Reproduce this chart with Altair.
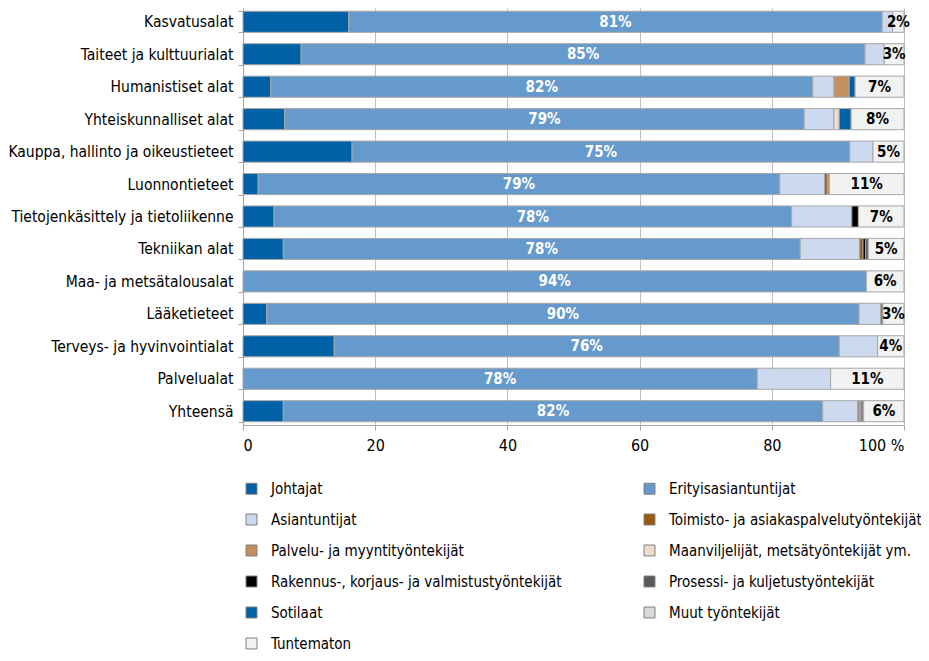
import altair as alt
import pandas as pd

categories = [
    "Kasvatusalat", "Taiteet ja kulttuurialat", "Humanistiset alat",
    "Yhteiskunnalliset alat", "Kauppa, hallinto ja oikeustieteet",
    "Luonnontieteet", "Tietojenkäsittely ja tietoliikenne", "Tekniikan alat",
    "Maa- ja metsätalousalat", "Lääketieteet", "Terveys- ja hyvinvointialat",
    "Palvelualat", "Yhteensä",
]

series = [
    "Johtajat", "Erityisasiantuntijat", "Asiantuntijat",
    "Toimisto- ja asiakaspalvelutyöntekijät", "Palvelu- ja myyntityöntekijät",
    "Maanviljelijät, metsätyöntekijät ym.",
    "Rakennus-, korjaus- ja valmistustyöntekijät",
    "Prosessi- ja kuljetustyöntekijät", "Sotilaat", "Muut työntekijät",
    "Tuntematon",
]

johtajat = [16.0, 8.8, 4.2, 6.3, 16.5, 2.3, 4.7, 6.1, 0, 3.6, 13.8, 0, 6.1]
erityis = [80.7, 85.3, 82.0, 78.6, 75.3, 78.9, 78.3, 78.2, 94.3, 89.6, 76.4, 77.8, 81.6]
asiant = [1.6, 2.9, 3.2, 4.5, 3.5, 6.8, 9.1, 9.0, 0, 3.3, 5.8, 11.1, 5.3]
toimisto = [0, 0, 0, 0, 0, 0.4, 0, 0.5, 0, 0.3, 0, 0, 0.2]
palvelu = [0, 0, 2.3, 0, 0, 0.3, 0, 0, 0, 0, 0, 0, 0.2]
maanvilj = [0, 0, 0, 0.8, 0, 0, 0, 0, 0, 0, 0, 0, 0]
rakennus = [0, 0, 0, 0, 0, 0, 1.0, 0.4, 0, 0, 0, 0, 0.1]
prosessi = [0, 0, 0, 0, 0, 0, 0, 0.4, 0, 0, 0, 0, 0.3]
sotilaat = [0, 0, 0.9, 1.8, 0, 0, 0, 0, 0, 0, 0, 0, 0.1]
muut = [0, 0, 0, 0, 0, 0, 0, 0, 0, 0, 0, 0, 0]
tuntematon = [1.7, 3.0, 7.4, 8.0, 4.7, 11.3, 6.9, 5.4, 5.7, 3.2, 4.0, 11.1, 6.1]

colors = ["#0061A6", "#6699CC", "#CDD9EE", "#9C5A0E", "#C4915E", "#EFDCC9",
          "#000000", "#595959", "#0061A6", "#D9D9D9", "#F2F2F2"]

x_ticks = [0, 20, 40, 60, 80, 100]

all_values = [johtajat, erityis, asiant, toimisto, palvelu, maanvilj,
              rakennus, prosessi, sotilaat, muut, tuntematon]

rows = []
for si, (s, vals) in enumerate(zip(series, all_values)):
    for ci, c in enumerate(categories):
        v = vals[ci]
        if v > 0:
            rows.append({"category": c, "series": s, "value": v, "order": si})
df = pd.DataFrame(rows)

# legend fills column by column: arrange so that rows read in series order
legend_order = series[0::2] + series[1::2]
color_map = dict(zip(series, colors))
legend_colors = [color_map[s] for s in legend_order]

FONT = "Liberation Sans Narrow, DejaVu Sans Condensed, sans-serif"

base = alt.Chart(df).transform_stack(
    stack="value", groupby=["category"], as_=["x0", "x1"],
    sort=[alt.SortField("order", order="ascending")],
)

yenc = alt.Y(
    "category:N", sort=categories, title=None,
    scale=alt.Scale(paddingInner=0.35, paddingOuter=0.1),
    axis=alt.Axis(tickBand="extent", tickSize=5, labelFontSize=15.5,
                  labelPadding=5, domainColor="#A6A6A6", tickColor="#A6A6A6",
                  labelColor="#000000", labelLimit=400),
)

bars = base.mark_bar(stroke="#A6A6A6", strokeWidth=1).encode(
    x=alt.X("x0:Q", title=None,
            scale=alt.Scale(domain=[0, 100], nice=False, zero=True),
            axis=alt.Axis(values=x_ticks, tickSize=5, labelFontSize=16,
                          labelPadding=7, domainColor="#A6A6A6",
                          tickColor="#A6A6A6", gridColor="#BFBFBF",
                          grid=True, labelColor="#000000",
                          labelExpr="datum.value == 100 ? '100 %' : datum.label")),
    x2="x1:Q",
    y=yenc,
    color=alt.Color(
        "series:N",
        scale=alt.Scale(domain=legend_order, range=legend_colors),
        legend=alt.Legend(
            title=None, orient="none", legendX=1, legendY=473, columns=2,
            symbolType="square", symbolSize=120, symbolStrokeColor="#7F7F7F",
            symbolStrokeWidth=1, labelFontSize=15, labelLimit=500,
            rowPadding=15, columnPadding=80, labelOffset=12, padding=0,
            labelColor="#000000",
        ),
    ),
    order=alt.Order("order:Q"),
)

labels = base.transform_filter(
    alt.FieldOneOfPredicate(field="series", oneOf=["Erityisasiantuntijat", "Tuntematon"])
).transform_calculate(
    mid="(datum.x0 + datum.x1) / 2",
    lab="format(datum.value, '.0f') + '%'",
).mark_text(fontWeight="bold", fontSize=15, font=FONT).encode(
    x="mid:Q",
    y=alt.Y("category:N", sort=categories),
    text="lab:N",
    color=alt.condition(alt.datum.series == "Erityisasiantuntijat",
                        alt.value("#FFFFFF"), alt.value("#000000")),
)

chart = alt.layer(bars, labels).properties(
    width=661, height=417,
    autosize=alt.AutoSizeParams(type="none"),
    padding={"left": 235, "top": 0, "right": 17, "bottom": 228},
).configure(font=FONT).configure_view(stroke=None).configure_axis(
    labelFont=FONT
).configure_legend(labelFont=FONT)

chart.save("out.html", embed_options={"renderer": "svg", "actions": False})
